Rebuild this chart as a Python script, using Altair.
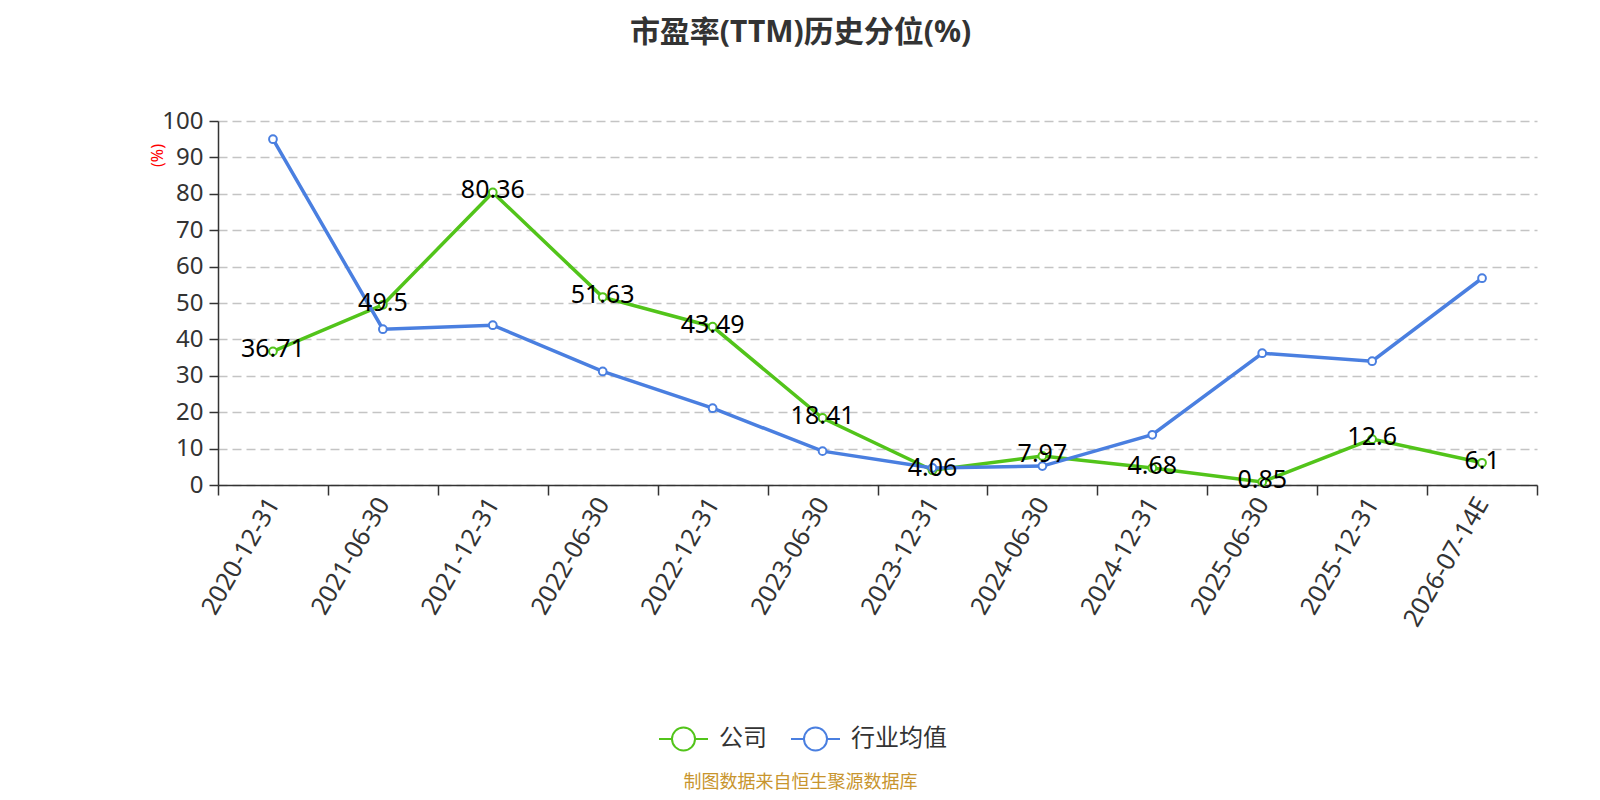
import altair as alt
import pandas as pd

dates = ["2020-12-31", "2021-06-30", "2021-12-31", "2022-06-30", "2022-12-31",
         "2023-06-30", "2023-12-31", "2024-06-30", "2024-12-31", "2025-06-30",
         "2025-12-31", "2026-07-14E"]
company = [36.71, 49.5, 80.36, 51.63, 43.49, 18.41, 4.06, 7.97, 4.68, 0.85, 12.6, 6.1]
industry = [95.0, 42.8, 43.9, 31.2, 21.1, 9.3, 4.7, 5.2, 13.8, 36.2, 34.0, 56.8]
series_names = ["公司", "行业均值"]
colors = ["#52C41A", "#4A7FE0"]
y_ticks = list(range(0, 101, 10))

title_text = "市盈率(TTM)历史分位(%)"
footer_text = "制图数据来自恒生聚源数据库"
y_title = "(%)"

rows = []
for name, vals in zip(series_names, [company, industry]):
    for d, v in zip(dates, vals):
        rows.append({"date": d, "value": v, "series": name})
df = pd.DataFrame(rows)

FONT = "'Noto Sans', 'Noto Sans CJK SC', sans-serif"

legend_path = ("M-1,0L-0.47,0M0.47,0L1,0"
               "M0.47,0A0.47,0.47 0 1,1 -0.47,0A0.47,0.47 0 1,1 0.47,0")

x_enc = alt.X(
    "date:N", sort=dates,
    scale=alt.Scale(paddingInner=0, paddingOuter=0),
    axis=alt.Axis(
        title=footer_text, titleColor="#C8952E", titleFontSize=18,
        titleFontWeight="normal", titleX=582, titleY=297,
        titleAlign="center", titleBaseline="middle",
        labelAngle=-60, labelFontSize=25, labelColor="#333333",
        labelPadding=4, labelOverlap=False, labelLimit=0,
        tickBand="extent", tickSize=10, tickColor="#333333", tickWidth=1.5,
        domainColor="#333333", domainWidth=1.5, grid=False,
    ),
)
y_enc = alt.Y(
    "value:Q",
    scale=alt.Scale(domain=[0, 100], nice=False),
    axis=alt.Axis(
        title=y_title, titleColor="red", titleFontSize=16,
        titleFontWeight="normal", titleX=-61, titleY=34, titleAngle=-90,
        titleAlign="center", titleBaseline="middle",
        values=y_ticks, labelFontSize=24, labelColor="#333333", labelPadding=6,
        tickSize=9, tickColor="#333333", tickWidth=1.5,
        domainColor="#333333", domainWidth=1.5,
        grid=True, gridColor="#c4c4c4", gridDash=[9, 5], gridWidth=1.5,
    ),
)
color_enc = alt.Color(
    "series:N",
    scale=alt.Scale(domain=series_names, range=colors),
    legend=alt.Legend(
        title=None, orient="none", legendX=440, legendY=592,
        direction="horizontal", symbolType=legend_path, symbolSize=2401,
        symbolStrokeWidth=2, symbolFillColor="white",
        labelFontSize=24, labelColor="#333333", labelOffset=10,
        columnPadding=20, padding=0,
    ),
)

base = alt.Chart(df)

lines = base.mark_line(strokeWidth=3.5).encode(x=x_enc, y=y_enc, color=color_enc)
points = base.mark_point(shape="circle", filled=False, fill="white",
                         strokeWidth=2, size=60, opacity=1).encode(
    x=x_enc, y=y_enc, color=color_enc)
labels = base.transform_filter(alt.datum.series == series_names[0]).mark_text(
    fontSize=25, color="black", baseline="middle", dy=-2, font=FONT
).encode(x=x_enc, y=y_enc, text=alt.Text("value:Q"))

chart = alt.layer(lines, points, labels).properties(
    width=1319, height=364,
    title=alt.TitleParams(text=title_text, fontSize=30, fontWeight="bold",
                          color="#333333", anchor="middle", frame="group",
                          dx=-77, dy=-57, font=FONT),
    autosize=alt.AutoSizeParams(type="none"),
    padding={"left": 210, "top": 113, "right": 55, "bottom": 307},
).configure(font=FONT).configure_view(stroke=None)

chart.save("out.html", embed_options={"renderer": "svg", "actions": False})
